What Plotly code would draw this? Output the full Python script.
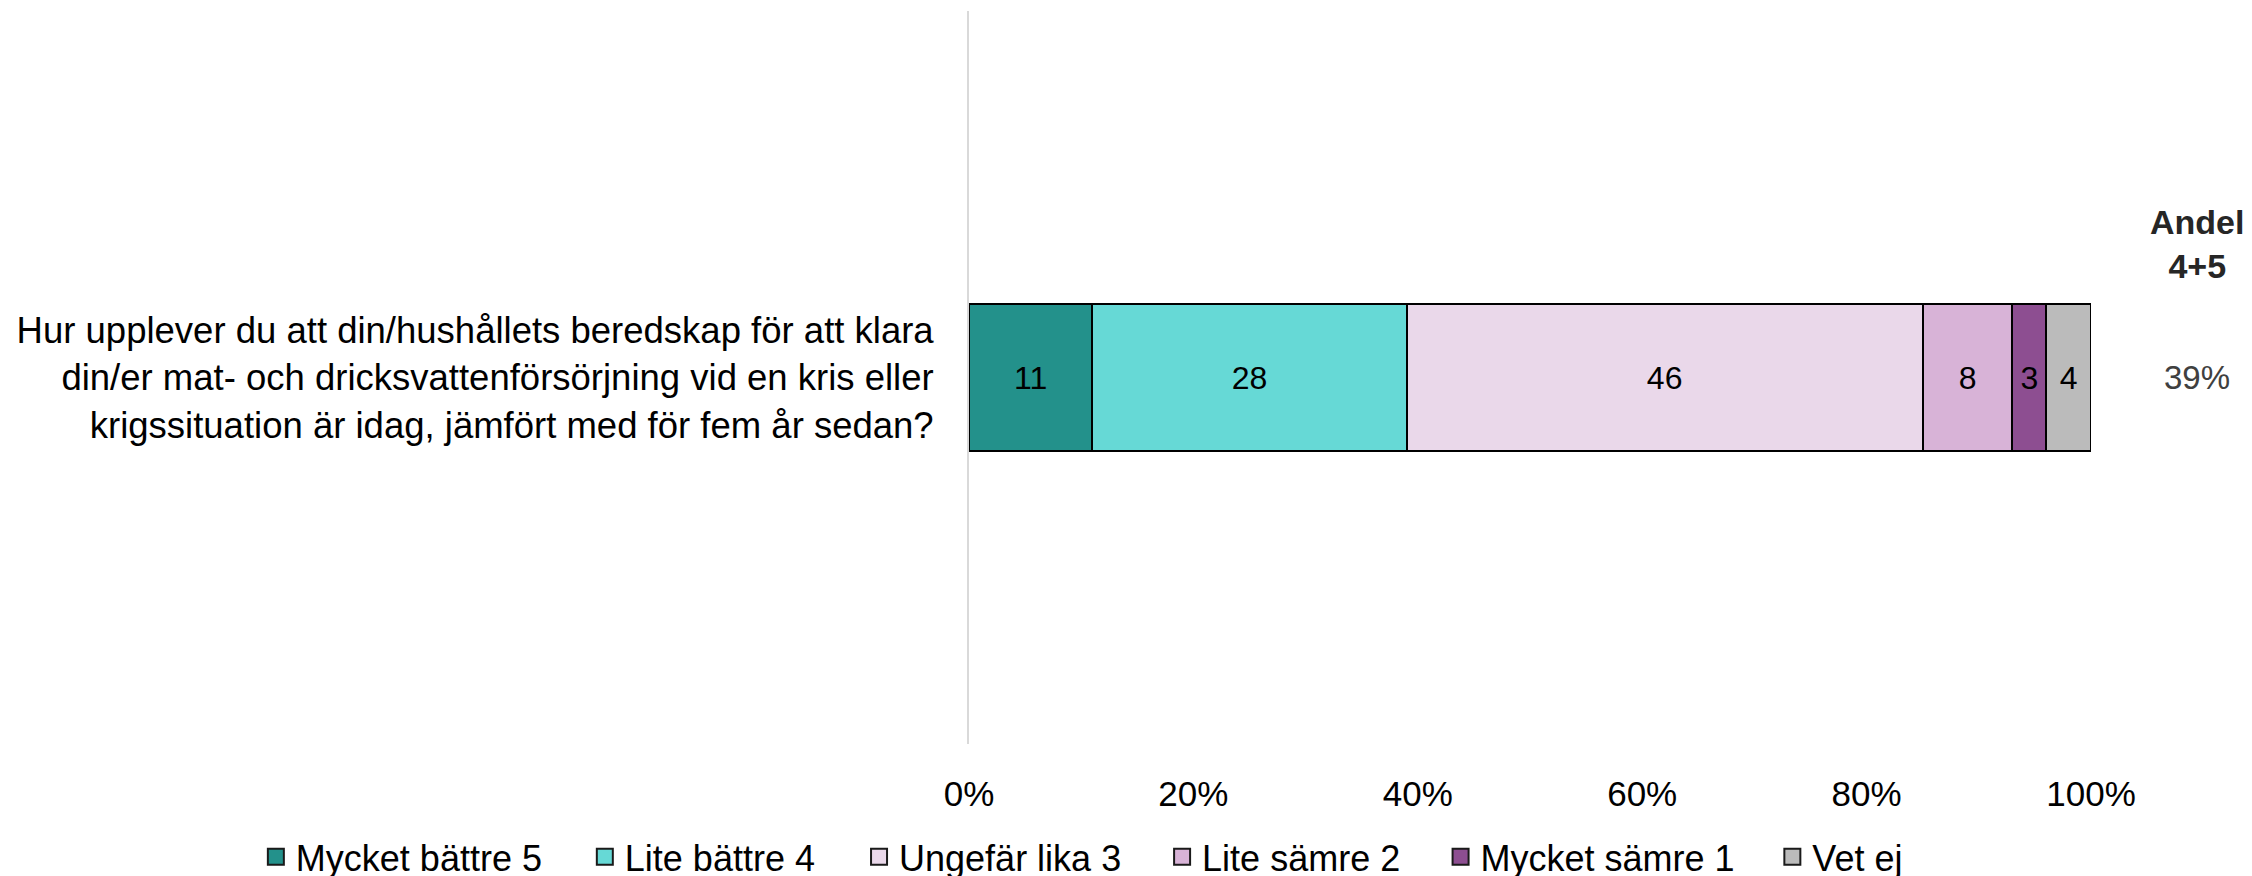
import plotly.graph_objects as go

question = ("Hur upplever du att din/hushållets beredskap för att klara<br>"
            "din/er mat- och dricksvattenförsörjning vid en kris eller<br>"
            "krigssituation är idag, jämfört med för fem år sedan?")
categories = ["Mycket bättre 5", "Lite bättre 4", "Ungefär lika 3",
              "Lite sämre 2", "Mycket sämre 1", "Vet ej"]
values = [11, 28, 46, 8, 3, 4]
colors = ["#23918B", "#66D9D6", "#EAD8EA", "#D8B3D7", "#8D4E91", "#BBBBBB"]
andel_label = "<b>Andel<br>4+5</b>"
andel_value = values[0] + values[1]

FONT = "Liberation Sans, Arial"
# one legend per entry so spacing can follow the original
legend_x = [-0.6356, -0.3424, -0.0980, 0.1721, 0.4203, 0.7160]

fig = go.Figure()
legend_layout = {}
for i, (name, v, c) in enumerate(zip(categories, values, colors)):
    key = "legend" if i == 0 else f"legend{i + 1}"
    fig.add_trace(go.Bar(
        y=[question], x=[v], name=name, orientation="h", showlegend=False,
        marker=dict(color=c, line=dict(color="black", width=2)),
        text=[str(v)], textposition="inside", insidetextanchor="middle",
        textangle=0, constraintext="none",
        textfont=dict(family=FONT, size=32, color="black"),
        width=0.2,
    ))
    # legend entry with a bigger square symbol, like the original
    fig.add_trace(go.Scatter(
        x=[None], y=[None], mode="markers", name=name, legend=key,
        marker=dict(symbol="square", size=19, color=c, line=dict(color="#1a1a1a", width=2)),
    ))
    legend_layout[key] = dict(orientation="h", xref="paper", yref="container",
                              x=legend_x[i], y=0.031, xanchor="left", yanchor="middle",
                              bgcolor="rgba(0,0,0,0)", itemwidth=30,
                              font=dict(family=FONT, size=36, color="black"))

fig.add_annotation(x=1.0945, y=0.682, xref="paper", yref="paper", text=andel_label,
                   xanchor="center", yanchor="middle", showarrow=False,
                   font=dict(family=FONT, size=34, color="#262626"))
fig.add_annotation(x=1.0945, y=question, xref="paper", yref="y", text=f"{andel_value}%",
                   xanchor="center", yanchor="middle", showarrow=False,
                   font=dict(family=FONT, size=33, color="#404040"))

fig.update_layout(
    barmode="stack",
    showlegend=True,
    width=2252, height=876,
    margin=dict(l=961, r=169, t=3, b=140),
    plot_bgcolor="white", paper_bgcolor="white",
    font=dict(family=FONT, size=36, color="black"),
    xaxis=dict(range=[0, 100], tickvals=[0, 20, 40, 60, 80, 100],
               ticktext=["0%", "20%", "40%", "60%", "80%", "100%"],
               showgrid=False, zeroline=False, showline=False,
               ticklabelstandoff=26, tickfont=dict(size=35)),
    yaxis=dict(showline=True, linecolor="#d9d9d9", linewidth=2, showgrid=False,
               ticklabelstandoff=26, tickfont=dict(size=36.5, color="black")),
    bargap=0.8,
    **legend_layout,
)

fig.write_html("out.html")
